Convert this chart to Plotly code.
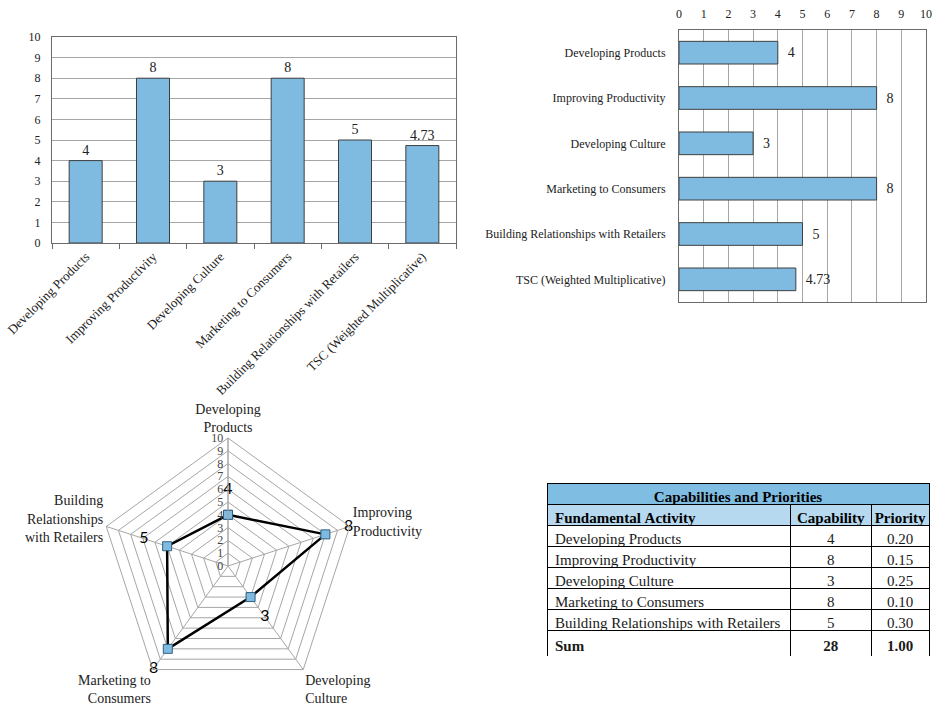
import plotly.graph_objects as go

# ---- data -------------------------------------------------------------
activities = [
    "Developing Products",
    "Improving Productivity",
    "Developing Culture",
    "Marketing to Consumers",
    "Building Relationships with Retailers",
]
capability = [4, 8, 3, 8, 5]
priority = [0.20, 0.15, 0.25, 0.10, 0.30]
tsc_label = "TSC (Weighted Multiplicative)"
tsc_value = 4.73

bar_categories = activities + [tsc_label]
bar_values = capability + [tsc_value]

radar_labels = [
    "Developing<br>Products",
    "Improving<br>Productivity",
    "Developing<br>Culture",
    "Marketing to<br>Consumers",
    "Building<br>Relationships<br>with Retailers",
]

# ---- styling ----------------------------------------------------------
SERIF = "Liberation Serif"
BLUE = "#7fbbe1"
EDGE = "#3f3f3f"
GRID = "#a6a6a6"
FRAME = "#6b6b6b"
W, H = 932, 708
NBSP = "\u00a0"


def px_x(a, b):
    return [a / W, b / W]


def px_y(top, bottom):
    return [1 - bottom / H, 1 - top / H]


def fmt(v):
    return f"{v:g}" if float(v).is_integer() else f"{v:.2f}"


def nowrap(s):
    return s.replace(" ", NBSP)


fig = go.Figure()

# ---- vertical bar chart ----------------------------------------------
fig.add_trace(go.Bar(
    x=bar_categories, y=bar_values,
    marker=dict(color=BLUE, line=dict(color=EDGE, width=1)),
    width=0.49,
    text=[fmt(v) for v in bar_values], textposition="outside",
    textfont=dict(family=SERIF, size=14, color="#222"),
    cliponaxis=False, xaxis="x", yaxis="y", showlegend=False,
))

# ---- horizontal bar chart --------------------------------------------
fig.add_trace(go.Bar(
    y=bar_categories, x=bar_values, orientation="h",
    marker=dict(color=BLUE, line=dict(color=EDGE, width=1)),
    width=0.5,
    text=[NBSP * 2 + fmt(v) for v in bar_values], textposition="outside",
    textfont=dict(family=SERIF, size=14, color="#222"),
    cliponaxis=False, xaxis="x2", yaxis="y2", showlegend=False,
))

# ---- radar chart ------------------------------------------------------
theta = radar_labels + radar_labels[:1]
r_vals = capability + capability[:1]
fig.add_trace(go.Scatterpolar(
    r=r_vals, theta=theta, mode="lines+markers",
    line=dict(color="black", width=2.5),
    marker=dict(symbol="square", size=9, color=BLUE,
                line=dict(color="#2f5f80", width=1)),
    showlegend=False, subplot="polar",
))
fig.add_trace(go.Scatterpolar(
    r=[v + 1.9 for v in capability], theta=radar_labels, mode="text",
    text=[fmt(v) for v in capability],
    textfont=dict(family="Lato", size=16, color="black"),
    showlegend=False, subplot="polar",
))

# ---- table ------------------------------------------------------------
# single-column table carrying the title row; the detail table sits on top
# of its (blank) body
TFONT = 15
tx = px_x(547, 930)
fig.add_trace(go.Table(
    domain=dict(x=tx, y=px_y(483, 656)),
    header=dict(values=["Capabilities and Priorities"],
                fill_color="#80bde2", line=dict(color="black", width=1),
                font=dict(family=SERIF, size=TFONT, color="black", weight="bold"),
                align="center", height=21),
    cells=dict(values=[[""]], fill_color="white",
               line=dict(color="black", width=1), height=21),
))
col_act = [nowrap(a) for a in activities] + ["<b>Sum</b>"]
col_cap = [str(c) for c in capability] + [f"<b>{sum(capability)}</b>"]
col_pri = [f"{p:.2f}" for p in priority] + [f"<b>{sum(priority):.2f}</b>"]
fig.add_trace(go.Table(
    domain=dict(x=tx, y=px_y(504, 656)),
    columnwidth=[244, 81, 58],
    header=dict(values=[nowrap("Fundamental Activity"), "Capability", "Priority"],
                fill_color="#b7d9ef", line=dict(color="black", width=1),
                font=dict(family=SERIF, size=TFONT, color="black", weight="bold"),
                align=["left", "center", "center"], height=21),
    cells=dict(values=[col_act, col_cap, col_pri],
               fill_color="white", line=dict(color="black", width=1),
               font=dict(family=SERIF, size=TFONT, color="#1a1a1a"),
               align=["left", "center", "center"], height=21),
))

# ---- layout -----------------------------------------------------------
fig.update_layout(
    width=W, height=H,
    margin=dict(l=0, r=0, t=0, b=0),
    paper_bgcolor="white", plot_bgcolor="white",
    font=dict(family=SERIF, size=12, color="#222"),
    xaxis=dict(
        domain=px_x(52, 456), anchor="y", automargin=False,
        tickangle=-45, tickfont=dict(family=SERIF, size=13, color="#222"),
        ticks="outside", tickson="boundaries", ticklen=5, tickcolor=FRAME,
        showline=True, linecolor=FRAME, mirror=True, showgrid=False,
    ),
    yaxis=dict(
        domain=px_y(37, 243), anchor="x", automargin=False,
        range=[0, 10], dtick=1, tickfont=dict(family=SERIF, size=12, color="#222"),
        showgrid=True, gridcolor=GRID, gridwidth=1,
        showline=True, linecolor=FRAME, mirror=True, zeroline=False,
        ticks="", ticklabelstandoff=8,
    ),
    xaxis2=dict(
        domain=px_x(679, 926), anchor="y2", side="top", automargin=False,
        range=[0, 10], dtick=1, tickfont=dict(family=SERIF, size=12, color="#222"),
        showgrid=True, gridcolor=GRID, gridwidth=1,
        showline=True, linecolor=FRAME, mirror=True, zeroline=False,
        ticks="", ticklabelstandoff=6,
    ),
    yaxis2=dict(
        domain=px_y(30, 302), anchor="x2", automargin=False,
        autorange="reversed", tickfont=dict(family=SERIF, size=12, color="#222"),
        ticks="", showline=True, linecolor=FRAME, mirror=True,
        showgrid=False, ticklabelstandoff=10,
    ),
    polar=dict(
        domain=dict(x=px_x(228 - 128, 228 + 128), y=px_y(566 - 128, 566 + 128)),
        gridshape="linear", bgcolor="white",
        radialaxis=dict(
            range=[0, 10], dtick=1, angle=90, tickangle=90,
            side="counterclockwise",
            tickfont=dict(family=SERIF, size=12, color="#444"),
            gridcolor=GRID, linecolor=GRID, showline=True, ticks="",
        ),
        angularaxis=dict(
            rotation=90, direction="clockwise",
            tickfont=dict(family=SERIF, size=14, color="#222"),
            gridcolor=GRID, linecolor=GRID, showline=True, ticks="",
        ),
    ),
)

fig.write_html("out.html")
